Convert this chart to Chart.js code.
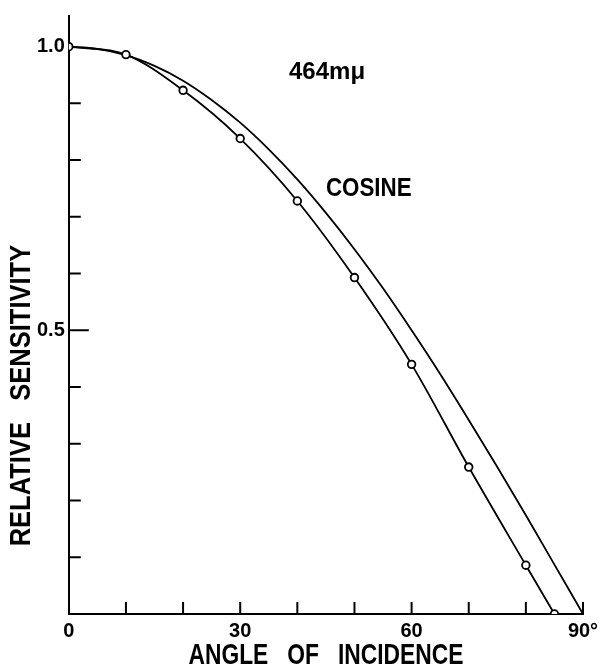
<!DOCTYPE html>
<html>
<head>
<meta charset="utf-8">
<script src="https://cdn.jsdelivr.net/npm/chart.js@4"></script>
<style>
  body { margin: 0; background: #fff; }
  #wrap { width: 605px; height: 672px; }
</style>
</head>
<body>
<div id="wrap"><canvas id="chart" width="605" height="672"></canvas></div>
<script>
// values
const angles = [0, 10, 20, 30, 40, 50, 60, 70, 80, 85]
const measured = [1.0, 0.986, 0.923, 0.838, 0.728, 0.593, 0.44, 0.259, 0.086, 0]

const cosAngles = [0, 5, 10, 15, 20, 25, 30, 35, 40, 45, 50, 55, 60, 65, 70, 75, 80, 85, 90]
const cosine = [1, 0.996, 0.985, 0.966, 0.94, 0.906, 0.866, 0.819, 0.766, 0.707, 0.643, 0.574, 0.5, 0.423, 0.342, 0.259, 0.174, 0.087, 0]

const xLabelValues = [0, 30, 60, 90]
const xLabelTexts = ['0', '30', '60', '90°']
const yLabelValues = [0.5, 1.0]
const yLabelTexts = ['0.5', '1.0']
const yTickValues = [0, 0.1, 0.2, 0.3, 0.4, 0.5, 0.6, 0.7, 0.8, 0.9, 1.0]

const FONT = "'Liberation Sans', Arial, sans-serif"

function pickLabel(values, texts, v) {
  for (let i = 0; i < values.length; i++) {
    if (Math.abs(values[i] - v) < 1e-6) return texts[i]
  }
  return ''
}

// condensed hand-lettered look: draw text squeezed horizontally
function letter(ctx, text, x, y, size, sx, rot) {
  ctx.save()
  ctx.translate(x, y)
  if (rot) ctx.rotate(rot)
  ctx.scale(sx, 1)
  ctx.font = 'bold ' + size + 'px ' + FONT
  ctx.fillStyle = '#000'
  ctx.textAlign = 'center'
  ctx.textBaseline = 'middle'
  ctx.fillText(text, 0, 0)
  ctx.restore()
}

const inkPlugin = {
  id: 'ink',
  afterDraw(chart) {
    const ctx = chart.ctx
    const xs = chart.scales.x
    const ys = chart.scales.y
    const area = chart.chartArea

    // inward tick marks
    ctx.save()
    ctx.strokeStyle = '#000'
    ctx.lineWidth = 2
    ctx.beginPath()
    xs.ticks.forEach(t => {
      if (t.value <= 0) return
      const px = xs.getPixelForValue(t.value)
      ctx.moveTo(px, area.bottom)
      ctx.lineTo(px, area.bottom - 12)
    })
    ys.ticks.forEach(t => {
      if (t.value <= 0 || t.value >= 1) return
      const py = ys.getPixelForValue(t.value)
      const len = Math.abs(t.value - 0.5) < 1e-6 ? 20 : 12
      ctx.moveTo(area.left, py)
      ctx.lineTo(area.left + len, py)
    })
    ctx.stroke()
    ctx.restore()

    // axis titles
    letter(ctx, 'ANGLE   OF   INCIDENCE', (area.left + area.right) / 2, area.bottom + 42, 30, 0.76, 0)
    letter(ctx, 'RELATIVE   SENSITIVITY', area.left - 47, ys.getPixelForValue(0.385), 29, 0.88, -Math.PI / 2)

    // annotations
    letter(ctx, '464mμ', xs.getPixelForValue(45.2), ys.getPixelForValue(0.955), 24, 1.0, 0)
    letter(ctx, 'COSINE', xs.getPixelForValue(52.5), ys.getPixelForValue(0.75), 26, 0.86, 0)
  }
}

new Chart(document.getElementById('chart'), {
  type: 'line',
  data: {
    datasets: [{
      label: 'measured',
      data: angles.map((a, i) => ({ x: a, y: measured[i] })),
      borderColor: '#000',
      borderWidth: 1.8,
      pointRadius: 3.8,
      pointBorderWidth: 1.8,
      pointBackgroundColor: '#fff',
      pointBorderColor: '#000',
      cubicInterpolationMode: 'monotone',
      fill: false
    }, {
      label: 'cosine',
      data: cosAngles.map((a, i) => ({ x: a, y: cosine[i] })),
      borderColor: '#000',
      borderWidth: 1.8,
      pointRadius: 0,
      cubicInterpolationMode: 'monotone',
      fill: false
    }]
  },
  options: {
    responsive: false,
    animation: false,
    layout: { padding: { left: 33, right: 22, top: 7, bottom: 24 } },
    plugins: {
      legend: { display: false },
      tooltip: { enabled: false }
    },
    scales: {
      x: {
        type: 'linear',
        min: 0,
        max: 90,
        border: { color: '#000', width: 2 },
        grid: { drawOnChartArea: false, drawTicks: false },
        ticks: {
          stepSize: 10,
          padding: 5,
          color: '#000',
          maxRotation: 0,
          autoSkip: false,
          font: { family: FONT, size: 20, weight: 'bold' },
          callback: v => pickLabel(xLabelValues, xLabelTexts, v)
        }
      },
      y: {
        type: 'linear',
        min: 0,
        max: 1.054,
        border: { color: '#000', width: 2 },
        grid: { drawOnChartArea: false, drawTicks: false },
        afterBuildTicks: scale => {
          scale.ticks = yTickValues.map(v => ({ value: v }))
        },
        ticks: {
          padding: 4,
          color: '#000',
          autoSkip: false,
          font: { family: FONT, size: 20, weight: 'bold' },
          callback: v => pickLabel(yLabelValues, yLabelTexts, v)
        }
      }
    }
  },
  plugins: [inkPlugin]
})
</script>
</body>
</html>
